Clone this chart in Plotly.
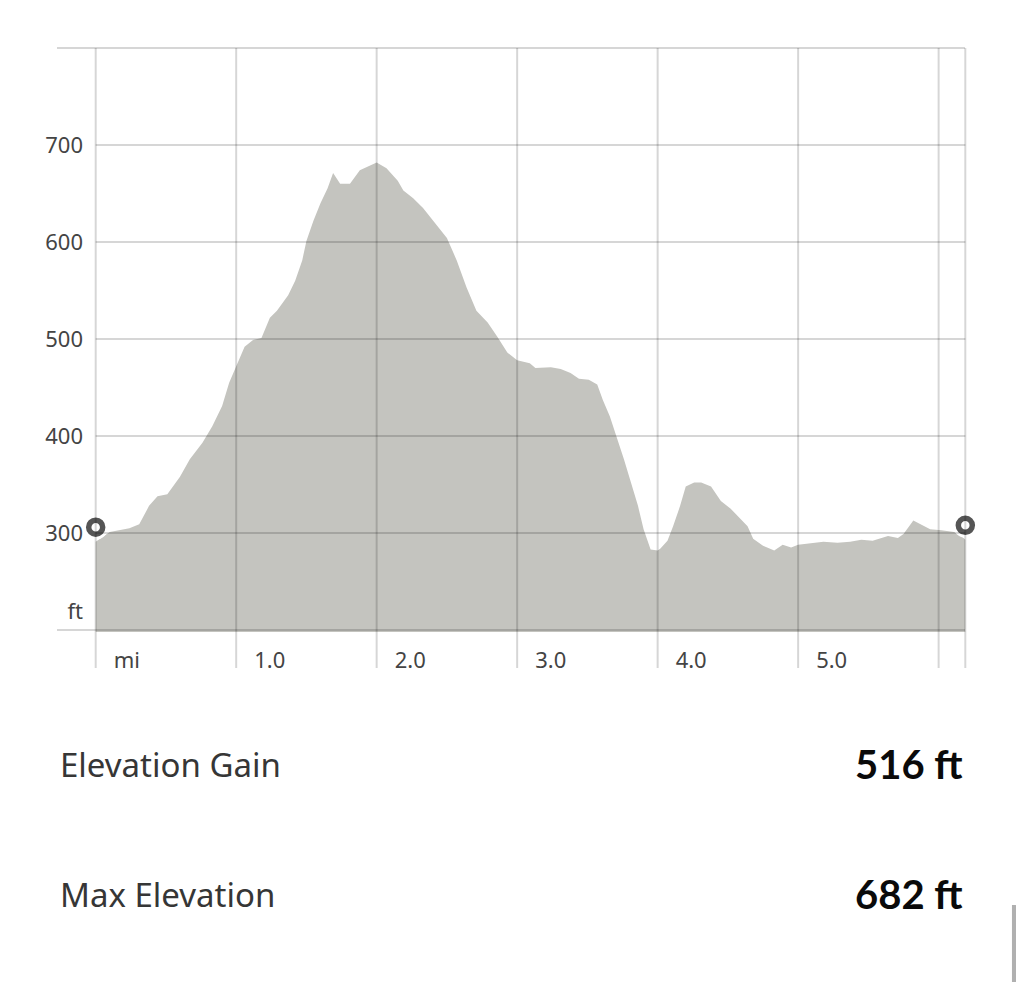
import plotly.graph_objects as go

# elevation profile: distance (mi) / elevation (ft)
dist = [0.00, 0.10, 0.24, 0.31, 0.38, 0.44, 0.51, 0.60, 0.67, 0.76, 0.83, 0.90,
        0.95, 1.00, 1.06, 1.12, 1.18, 1.24, 1.29, 1.37, 1.42, 1.47, 1.50, 1.55,
        1.60, 1.65, 1.69, 1.74, 1.81, 1.88, 1.93, 2.00, 2.07, 2.15, 2.19, 2.26,
        2.33, 2.40, 2.50, 2.57, 2.64, 2.71, 2.79, 2.86, 2.93, 3.00, 3.09, 3.13,
        3.24, 3.31, 3.38, 3.44, 3.51, 3.57, 3.61, 3.66, 3.71, 3.76, 3.81, 3.86,
        3.90, 3.95, 4.00, 4.02, 4.07, 4.11, 4.16, 4.20, 4.26, 4.31, 4.38, 4.45,
        4.52, 4.59, 4.64, 4.68, 4.75, 4.83, 4.89, 4.95, 5.00, 5.18, 5.28, 5.37,
        5.45, 5.53, 5.64, 5.71, 5.75, 5.82, 5.94, 6.02, 6.11, 6.17, 6.19]
elev = [291, 301, 305, 309, 328, 338, 340, 358, 376, 393, 410, 431,
        455, 471, 492, 499, 501, 522, 529, 545, 560, 581, 601, 622,
        640, 655, 671, 660, 660, 674, 677, 682, 676, 663, 653, 645,
        635, 622, 604, 581, 553, 529, 517, 502, 486, 478, 475, 470,
        471, 469, 465, 459, 458, 453, 437, 420, 399, 376, 352, 328,
        304, 283, 282, 284, 292, 307, 328, 348, 352, 352, 348, 333,
        325, 314, 307, 294, 287, 282, 288, 285, 288, 291, 290, 291,
        293, 292, 297, 295, 299, 313, 304, 303, 301, 296, 293]

# start / end markers
end_x = [0.00, 6.19]
end_y = [306, 308]

# axis ticks
x_grid = [0, 1, 2, 3, 4, 5, 6, 6.19]
x_tickvals = [0, 1, 2, 3, 4, 5]
x_ticktext = ["mi", "1.0", "2.0", "3.0", "4.0", "5.0"]
y_grid = [300, 400, 500, 600, 700]
y_frame = [200, 800]
y_tickvals = [219, 300, 400, 500, 600, 700]
y_ticktext = ["ft", "300", "400", "500", "600", "700"]

stats = [("Elevation Gain", "516 ft"), ("Max Elevation", "682 ft")]

GRID = "rgba(0,0,0,0.16)"
LABEL_FONT = "Noto Sans"

fig = go.Figure()

fig.add_trace(go.Scatter(
    x=dist, y=elev, mode="lines", fill="tozeroy",
    line=dict(color="#c4c4bf", width=0), fillcolor="#c4c4bf",
    hoverinfo="skip"))

# white halo + dark ring markers
fig.add_trace(go.Scatter(
    x=end_x, y=end_y, mode="markers", cliponaxis=False,
    marker=dict(size=25, color="white"), hoverinfo="skip"))
fig.add_trace(go.Scatter(
    x=end_x, y=end_y, mode="markers", cliponaxis=False,
    marker=dict(size=14, color="white", line=dict(color="#555555", width=5.5)),
    hoverinfo="skip"))

shapes = []
# vertical grid, running below the plot into the label row
for gx in x_grid:
    shapes.append(dict(type="line", xref="x", yref="paper", x0=gx, x1=gx,
                       y0=-0.0614, y1=0.9966, layer="above",
                       line=dict(color=GRID, width=2)))
for gy in y_grid:
    shapes.append(dict(type="line", xref="x", yref="y", x0=0, x1=6.19,
                       y0=gy, y1=gy, layer="above",
                       line=dict(color=GRID, width=2)))
# top and bottom frame lines reach further left
for gy in y_frame:
    shapes.append(dict(type="line", xref="paper", yref="y", x0=-0.0424, x1=0.9977,
                       y0=gy, y1=gy, layer="above",
                       line=dict(color=GRID, width=2)))
# scroll indicator
shapes.append(dict(type="rect", xref="paper", yref="paper", x0=1.0515, x1=1.0561,
                   y0=-0.5973, y1=-0.4659, fillcolor="#b0b0b0", line=dict(width=0)))

annotations = []
for i, (label, value) in enumerate(stats):
    yy = -0.2253 - i * 0.2218
    annotations.append(dict(xref="paper", yref="paper", x=-0.0412, y=yy,
                            text=label, showarrow=False, xanchor="left", yanchor="middle",
                            font=dict(family=LABEL_FONT, size=33, color="#363636")))
    annotations.append(dict(xref="paper", yref="paper", x=0.9977, y=yy,
                            text="<b>" + value + "</b>", showarrow=False,
                            xanchor="right", yanchor="middle",
                            font=dict(family="Lato", size=40, color="#0a0a0a")))

# page body has an 8px margin, so the figure is drawn 8px in from the corner
fig.update_layout(
    width=1016, height=974,
    margin=dict(l=86, r=57, t=38, b=350),
    paper_bgcolor="white", plot_bgcolor="white",
    showlegend=False,
    shapes=shapes, annotations=annotations,
    font=dict(family=LABEL_FONT, size=22, color="#444444"),
)
fig.update_xaxes(
    range=[-0.012, 6.202], showgrid=False, zeroline=False, showline=False,
    tickvals=x_tickvals, ticktext=x_ticktext, ticks="",
    ticklabelposition="outside right", ticklabelshift=18, ticklabelstandoff=13,
    fixedrange=True)
fig.update_yaxes(
    range=[198, 802], showgrid=False, zeroline=False, showline=False,
    tickvals=y_tickvals, ticktext=y_ticktext, ticks="",
    ticklabelstandoff=10, fixedrange=True)

fig.write_html("out.html", config={"displayModeBar": False})
